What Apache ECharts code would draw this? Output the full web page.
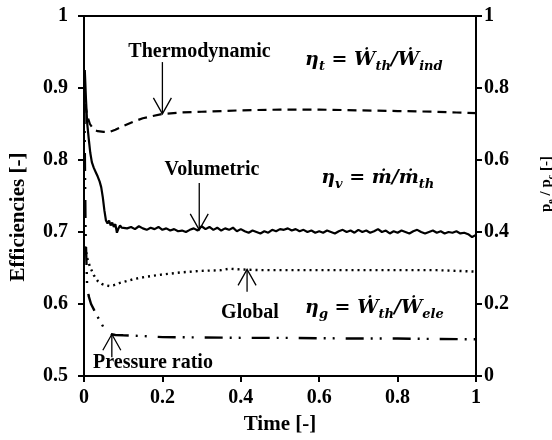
<!DOCTYPE html>
<html>
<head>
<meta charset="utf-8">
<script src="https://cdn.jsdelivr.net/npm/echarts@6/dist/echarts.min.js"></script>
<style>html,body{margin:0;padding:0;background:#fff}#c{width:552px;height:440px}</style>
</head>
<body>
<div id="c"></div>
<script>
// ---- data ----
var xTicks = ['0', '0.2', '0.4', '0.6', '0.8', '1'];
var leftTicks = ['0.5', '0.6', '0.7', '0.8', '0.9', '1'];
var rightTicks = ['0', '0.2', '0.4', '0.6', '0.8', '1'];

var thermoT = [0.003, 0.008, 0.015, 0.025, 0.035, 0.05, 0.065, 0.08, 0.1, 0.125, 0.15, 0.175, 0.2, 0.25, 0.3, 0.35, 0.4, 0.5, 0.6, 0.7, 0.8, 0.9, 0.95, 1.0];
var thermoV = [0.878, 0.862, 0.85, 0.842, 0.84, 0.839, 0.839, 0.842, 0.847, 0.853, 0.858, 0.861, 0.864, 0.866, 0.867, 0.868, 0.869, 0.87, 0.87, 0.869, 0.868, 0.867, 0.866, 0.865];

var volT = [0.002, 0.005, 0.008, 0.012, 0.016, 0.020, 0.025, 0.030, 0.035, 0.040, 0.044, 0.048, 0.052, 0.056, 0.060, 0.064, 0.068, 0.072, 0.076, 0.080, 0.084, 0.088, 0.092, 0.096,
  0.10, 0.11, 0.12, 0.13, 0.14, 0.15, 0.16, 0.17, 0.18, 0.19, 0.20, 0.21, 0.22, 0.23, 0.24, 0.25, 0.26, 0.27, 0.28, 0.29,
  0.30, 0.31, 0.32, 0.33, 0.34, 0.35, 0.36, 0.37, 0.38, 0.39, 0.40, 0.41, 0.42, 0.43, 0.44, 0.45, 0.46, 0.47, 0.48, 0.49,
  0.50, 0.51, 0.52, 0.53, 0.54, 0.55, 0.56, 0.57, 0.58, 0.59, 0.60, 0.61, 0.62, 0.63, 0.64, 0.65, 0.66, 0.67, 0.68, 0.69,
  0.70, 0.71, 0.72, 0.73, 0.74, 0.75, 0.76, 0.77, 0.78, 0.79, 0.80, 0.81, 0.82, 0.83, 0.84, 0.85, 0.86, 0.87, 0.88, 0.89,
  0.90, 0.91, 0.92, 0.93, 0.94, 0.95, 0.96, 0.97, 0.98, 0.99, 1.00];
var volV = [0.925, 0.885, 0.852, 0.83, 0.81, 0.797, 0.789, 0.783, 0.777, 0.77, 0.762, 0.748, 0.73, 0.716, 0.712, 0.716, 0.709, 0.713, 0.707, 0.711, 0.699, 0.705, 0.709, 0.706,
  0.708, 0.705, 0.707, 0.704, 0.708, 0.705, 0.703, 0.706, 0.704, 0.707, 0.703, 0.705, 0.702, 0.704, 0.701, 0.702, 0.700, 0.703, 0.705, 0.702,
  0.708, 0.704, 0.707, 0.703, 0.706, 0.702, 0.705, 0.703, 0.706, 0.701, 0.704, 0.701, 0.699, 0.702, 0.700, 0.698, 0.701, 0.699, 0.703, 0.701,
  0.704, 0.703, 0.705, 0.702, 0.704, 0.701, 0.703, 0.700, 0.702, 0.699, 0.701, 0.699, 0.702, 0.700, 0.698, 0.701, 0.703, 0.700, 0.702, 0.699,
  0.703, 0.700, 0.702, 0.699, 0.701, 0.704, 0.700, 0.702, 0.698, 0.701, 0.699, 0.702, 0.700, 0.698, 0.701, 0.703, 0.700, 0.698, 0.700, 0.702,
  0.699, 0.701, 0.698, 0.700, 0.699, 0.701, 0.698, 0.699, 0.697, 0.693, 0.696];

var globalT = [0.003, 0.008, 0.015, 0.025, 0.035, 0.045, 0.055, 0.065, 0.075, 0.09, 0.11, 0.13, 0.16, 0.2, 0.25, 0.3, 0.35, 0.37, 0.4, 0.45, 0.5, 0.6, 0.7, 0.8, 0.9, 0.95, 1.0];
var globalV = [0.68, 0.664, 0.652, 0.64, 0.632, 0.628, 0.626, 0.625, 0.626, 0.629, 0.632, 0.635, 0.638, 0.641, 0.644, 0.646, 0.647, 0.649, 0.648, 0.647, 0.647, 0.647, 0.647, 0.647, 0.647, 0.646, 0.645];

var pressT = [0.001, 0.004, 0.008, 0.012, 0.018, 0.025, 0.033, 0.041, 0.05, 0.06, 0.07, 0.08, 0.1, 0.15, 0.2, 0.3, 0.4, 0.5, 0.6, 0.7, 0.8, 0.9, 1.0];
var pressV = [0.75, 0.4, 0.25, 0.222, 0.2, 0.185, 0.168, 0.152, 0.135, 0.122, 0.116, 0.114, 0.113, 0.111, 0.108, 0.107, 0.106, 0.106, 0.105, 0.104, 0.104, 0.103, 0.102];

function pairs(t, v) { return t.map(function (x, i) { return [x, v[i]]; }); }

var FONT = '"Liberation Serif", "Times New Roman", serif';
var MATH = '"DejaVu Serif", "Liberation Serif", serif';
var chart = echarts.init(document.getElementById('c'), null, { renderer: 'canvas' });

function fmt(list, min, step) {
  return function (val) { var i = Math.round((val - min) / step); return list[i] !== undefined ? list[i] : ''; };
}

var axisLine = { show: true, lineStyle: { color: '#000', width: 2 } };
var axisTick = { show: true, inside: false, length: 6, lineStyle: { color: '#000', width: 2 } };
var labelStyle = { color: '#000', fontFamily: FONT, fontWeight: 'bold', fontSize: 20 };

chart.setOption({
  animation: false,
  backgroundColor: '#fff',
  grid: { left: 84, right: 76, top: 16, bottom: 61, show: true, borderColor: '#000', borderWidth: 2, backgroundColor: 'transparent' },
  xAxis: {
    type: 'value', min: 0, max: 1, interval: 0.2,
    name: 'Time [-]', nameLocation: 'middle', nameGap: 38,
    nameTextStyle: { color: '#000', fontFamily: FONT, fontWeight: 'bold', fontSize: 21 },
    axisLine: axisLine, axisTick: axisTick, splitLine: { show: false },
    axisLabel: Object.assign({ margin: 12, formatter: fmt(xTicks, 0, 0.2) }, labelStyle)
  },
  yAxis: [{
    type: 'value', min: 0.5, max: 1, interval: 0.1, position: 'left',
    axisLine: axisLine, axisTick: axisTick, splitLine: { show: false },
    axisLabel: Object.assign({ margin: 16, formatter: fmt(leftTicks, 0.5, 0.1) }, labelStyle)
  }, {
    type: 'value', min: 0, max: 1, interval: 0.2, position: 'right',
    axisLine: axisLine, axisTick: axisTick, splitLine: { show: false },
    axisLabel: Object.assign({ margin: 8, formatter: fmt(rightTicks, 0, 0.2) }, labelStyle)
  }],
  series: [{
    name: 'Thermodynamic', type: 'line', yAxisIndex: 0, showSymbol: false, symbol: 'none',
    lineStyle: { color: '#000', width: 2.2, type: [9, 6] }, data: pairs(thermoT, thermoV)
  }, {
    name: 'Volumetric', type: 'line', yAxisIndex: 0, showSymbol: false, symbol: 'none',
    lineStyle: { color: '#000', width: 2.2, type: 'solid' }, data: pairs(volT, volV)
  }, {
    name: 'Global', type: 'line', yAxisIndex: 0, showSymbol: false, symbol: 'none',
    lineStyle: { color: '#000', width: 2.4, type: [2, 4] }, data: pairs(globalT, globalV)
  }, {
    name: 'Pressure ratio', type: 'line', yAxisIndex: 1, showSymbol: false, symbol: 'none',
    lineStyle: { color: '#000', width: 2.4, type: [18, 7, 2, 7, 2, 11] }, data: pairs(pressT, pressV)
  }]
});

// ---- annotations (anchored in data units of the left axis) ----
var labels = [
  { text: 'Thermodynamic', t: 0.2946, v: 0.950 },
  { text: 'Volumetric', t: 0.3265, v: 0.7865 },
  { text: 'Global', t: 0.4235, v: 0.588 },
  { text: 'Pressure ratio', t: 0.176, v: 0.518 }
];
var formulas = [
  { text: '{m|η}{s|t}{m| = Ẇ}{s|th}{m|/Ẇ}{s|ind}', t: 0.564, v: 0.939 },
  { text: '{m|η}{s|v}{m| = ṁ/ṁ}{s|th}', t: 0.605, v: 0.775 },
  { text: '{m|η}{s|g}{m| = Ẇ}{s|th}{m|/Ẇ}{s|ele}', t: 0.564, v: 0.594 }
];
var arrows = [
  { t: 0.2, tip: 0.864, tail: 0.936 },
  { t: 0.294, tip: 0.703, tail: 0.768 },
  { t: 0.416, tip: 0.648, tail: 0.617 },
  { t: 0.071, tip: 0.558, tail: 0.526 }
];

function px(t, v) { return chart.convertToPixel({ xAxisIndex: 0, yAxisIndex: 0 }, [t, v]); }

var g = [];
labels.forEach(function (l) {
  var p = px(l.t, l.v);
  g.push({ type: 'text', x: p[0], y: p[1], z: 10,
    style: { text: l.text, fill: '#000', fontFamily: FONT, fontWeight: 'bold', fontSize: 20, align: 'center', verticalAlign: 'middle' } });
});
var mathRich = {
  m: { fontFamily: MATH, fontWeight: 'bold', fontStyle: 'italic', fontSize: 19, lineHeight: 26, fill: '#000', color: '#000' },
  s: { fontFamily: MATH, fontWeight: 'bold', fontStyle: 'italic', fontSize: 13, lineHeight: 14, verticalAlign: 'bottom', fill: '#000', color: '#000' }
};
formulas.forEach(function (f) {
  var p = px(f.t, f.v);
  g.push({ type: 'text', x: p[0], y: p[1], z: 10,
    style: { text: f.text, rich: mathRich, fill: '#000', fontFamily: MATH, fontSize: 19, align: 'left', verticalAlign: 'middle' } });
});
arrows.forEach(function (a) {
  var tip = px(a.t, a.tip), tail = px(a.t, a.tail);
  var hy = tip[1] + (tail[1] < tip[1] ? -16 : 16);
  g.push({ type: 'line', z: 10, shape: { x1: tail[0], y1: tail[1], x2: tip[0], y2: tip[1] }, style: { stroke: '#000', lineWidth: 1.3 } });
  g.push({ type: 'polyline', z: 10, shape: { points: [[tip[0] - 9, hy], [tip[0], tip[1]], [tip[0] + 9, hy]] }, style: { stroke: '#000', lineWidth: 1.3, fill: null } });
});
// axis titles
g.push({ type: 'text', x: 19, y: 217, rotation: Math.PI / 2, z: 10,
  style: { text: 'Efficiencies [-]', fill: '#000', fontFamily: FONT, fontWeight: 'bold', fontSize: 21, align: 'center', verticalAlign: 'middle' } });
g.push({ type: 'text', x: 546, y: 184, rotation: Math.PI / 2, z: 10,
  style: { text: '{m|p}{s|e}{m| / p}{s|c}{m| [-]}', fill: '#000', align: 'center', verticalAlign: 'middle',
    rich: {
      m: { fontFamily: FONT, fontWeight: 'bold', fontSize: 15, lineHeight: 20, fill: '#000', color: '#000' },
      s: { fontFamily: FONT, fontWeight: 'bold', fontSize: 10, lineHeight: 11, verticalAlign: 'bottom', fill: '#000', color: '#000' }
    } } });

chart.setOption({ graphic: g });
</script>
</body>
</html>
